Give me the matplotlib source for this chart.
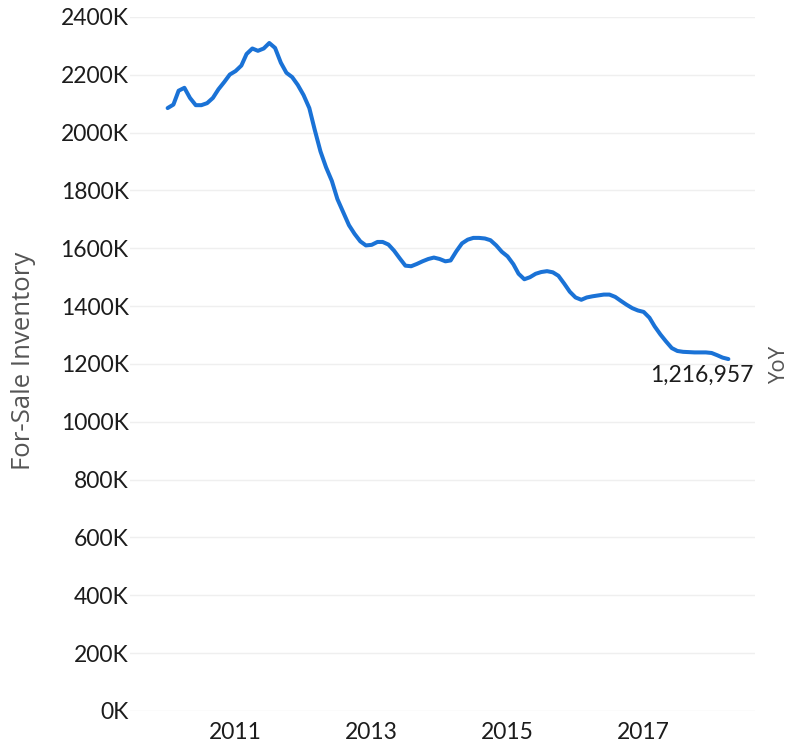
import matplotlib
matplotlib.use("Agg")
import matplotlib.pyplot as plt
from matplotlib.ticker import FuncFormatter
import pandas as pd

# Monthly for-sale inventory, Jan 2010 - Apr 2018 (thousands of homes)
start_month = "2010-01-01"
inventory_k = [
    2085, 2097, 2145, 2155, 2120, 2095, 2095, 2102, 2120, 2150, 2175, 2201,   # 2010
    2213, 2232, 2272, 2291, 2283, 2291, 2310, 2293, 2242, 2207, 2192, 2165,   # 2011
    2130, 2085, 2010, 1935, 1880, 1833, 1770, 1725, 1680, 1650, 1624, 1610,   # 2012
    1612, 1622, 1622, 1613, 1592, 1565, 1540, 1538, 1546, 1555, 1563, 1568,   # 2013
    1563, 1555, 1558, 1590, 1617, 1630, 1636, 1636, 1634, 1628, 1610, 1588,   # 2014
    1572, 1545, 1512, 1493, 1500, 1512, 1518, 1521, 1517, 1505, 1478, 1450,   # 2015
    1430, 1422, 1430, 1434, 1437, 1440, 1440, 1432, 1418, 1405, 1393, 1385,   # 2016
    1380, 1360, 1330, 1302, 1278, 1255, 1245, 1242, 1241, 1240, 1240, 1240,   # 2017
    1238, 1230, 1222, 1216.957,                                             # 2018
]
year_ticks = [2011, 2013, 2015, 2017]
y_ticks_k = list(range(0, 2401, 200))

dates = pd.date_range(start_month, periods=len(inventory_k), freq="MS")
values = [v * 1000 for v in inventory_k]

plt.rcParams["font.family"] = ["Lato", "DejaVu Sans"]

fig = plt.figure(figsize=(7.9, 7.48), dpi=100)
ax = fig.add_axes([0.1646, 0.0495, 0.7911, 0.9278])

ax.plot(dates, values, color="#1a72d6", linewidth=2.9, solid_capstyle="round",
        solid_joinstyle="round", zorder=3)

# last value label
last_val = values[-1]
ax.annotate(f"{round(last_val):,}", xy=(dates[-1], last_val), xytext=(18, -4.5),
            textcoords="offset points", ha="right", va="top",
            fontsize=16.5, color="#1c1c1c")

ax.set_ylim(0, 2400000)
ax.set_xlim(pd.Timestamp("2009-06-13"), pd.Timestamp("2018-08-22"))
ax.set_yticks([v * 1000 for v in y_ticks_k])
ax.yaxis.set_major_formatter(FuncFormatter(lambda v, p: f"{int(round(v / 1000))}K"))
ax.set_xticks([pd.Timestamp(f"{y}-01-01") for y in year_ticks])
ax.set_xticklabels([str(y) for y in year_ticks])

ax.grid(axis="y", color="#efefef", linewidth=1.0)
ax.grid(axis="x", visible=False)
ax.set_axisbelow(True)
for s in ax.spines.values():
    s.set_visible(False)
ax.tick_params(axis="both", length=0, labelsize=16.5, colors="#1c1c1c")
ax.tick_params(axis="y", pad=1)
ax.tick_params(axis="x", pad=8)

fig.text(0.030, 0.517, "For-Sale Inventory", rotation=90, ha="center", va="center",
         fontsize=18.5, color="#555555", family=["Open Sans", "DejaVu Sans"])
fig.text(0.987, 0.512, "YoY", rotation=90, ha="center", va="center",
         fontsize=16, color="#555555", family=["Open Sans", "DejaVu Sans"])

fig.savefig("out.png", dpi=100, facecolor="white")
